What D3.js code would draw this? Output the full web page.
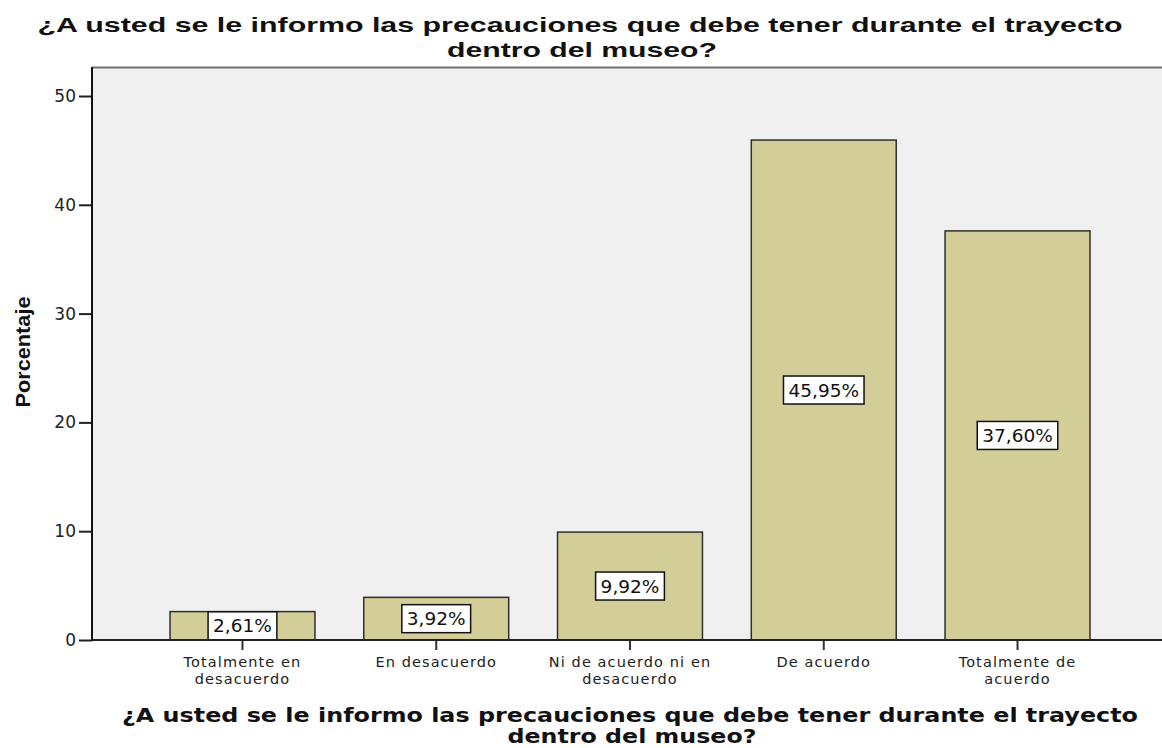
<!DOCTYPE html>
<html>
<head>
<meta charset="utf-8">
<script src="https://cdn.jsdelivr.net/npm/d3@7"></script>
<style>
  body { margin: 0; background: #fff; }
  svg { display: block; }
  .tick text { font-family: "DejaVu Sans", sans-serif; fill: #222; }
</style>
</head>
<body>
<div id="chartHolder"></div>
<script>
// datos
const categories = ["Totalmente en desacuerdo", "En desacuerdo", "Ni de acuerdo ni en desacuerdo", "De acuerdo", "Totalmente de acuerdo"];
const tickLines = [["Totalmente en", "desacuerdo"], ["En desacuerdo"], ["Ni de acuerdo ni en", "desacuerdo"], ["De acuerdo"], ["Totalmente de", "acuerdo"]];
const percents = [2.61, 3.92, 9.92, 45.95, 37.60];
const yTicks = [0, 10, 20, 30, 40, 50];
const titleLines = ["¿A usted se le informo las precauciones que debe tener durante el trayecto", "dentro del museo?"];
const yTitle = "Porcentaje";

const w = 1162;
const h = 748;
const pLeft = 92, pRight = 1162, pTop = 67, pBottom = 640;

const es = d3.formatLocale({decimal: ",", thousands: ".", grouping: [3], currency: ["", "€"]});
const fmt = es.format(".2f");

const svg = d3.select("#chartHolder")
  .append("svg")
  .attr("width", w)
  .attr("height", h);

// fondo del area de grafico
svg.append("rect")
  .attr("x", pLeft).attr("y", pTop)
  .attr("width", pRight - pLeft).attr("height", pBottom - pTop)
  .attr("fill", "#f0f0f0");
svg.append("line")
  .attr("x1", pLeft).attr("x2", pRight)
  .attr("y1", pTop + 0.5).attr("y2", pTop + 0.5)
  .attr("stroke", "#6e6e6e").attr("stroke-width", 2);

const x = d3.scaleBand()
  .domain(categories)
  .range([145.6, 1114.4])
  .paddingInner(0.252)
  .paddingOuter(0.126);

const y = d3.scaleLinear()
  .domain([0, (pBottom - pTop) / 10.88])
  .range([pBottom, pTop]);

// barras
svg.selectAll(".bar")
  .data(percents)
  .enter()
  .append("rect")
  .attr("class", "bar")
  .attr("x", (d, i) => x(categories[i]))
  .attr("y", (d) => y(d))
  .attr("width", x.bandwidth())
  .attr("height", (d) => pBottom - y(d))
  .attr("fill", "#d3ce97")
  .attr("stroke", "#2e2e2e")
  .attr("stroke-width", 1.5);

// etiquetas de valor
const lab = svg.selectAll(".vlab")
  .data(percents)
  .enter()
  .append("g")
  .attr("class", "vlab")
  .attr("transform", (d, i) => "translate(" + (x(categories[i]) + x.bandwidth() / 2) + "," + ((y(d) + pBottom) / 2) + ")");

lab.append("rect");
lab.append("text")
  .attr("text-anchor", "middle")
  .attr("dy", "0.36em")
  .style("font-family", "DejaVu Sans, sans-serif")
  .style("font-size", "18.5px")
  .attr("fill", "#111")
  .text((d) => fmt(d) + "%");
lab.each(function() {
  const g = d3.select(this);
  const tw = g.select("text").node().getComputedTextLength();
  g.select("rect")
    .attr("x", -tw / 2 - 5).attr("y", -14)
    .attr("width", tw + 10).attr("height", 28)
    .attr("fill", "#fff")
    .attr("stroke", "#111")
    .attr("stroke-width", 1.5);
});

// eje x
const xAxis = d3.axisBottom(x).tickSize(10).tickSizeOuter(0).tickFormat("");
const gx = svg.append("g")
  .attr("transform", "translate(0," + pBottom + ")")
  .call(xAxis);
gx.select(".domain").remove();
gx.selectAll(".tick line").attr("stroke", "#333").attr("stroke-width", 2);
svg.append("line")
  .attr("x1", pLeft).attr("x2", pRight)
  .attr("y1", pBottom).attr("y2", pBottom)
  .attr("stroke", "#222").attr("stroke-width", 2);

gx.selectAll(".tick").each(function(d, i) {
  const t = d3.select(this).append("text")
    .attr("text-anchor", "middle")
    .attr("y", 27)
    .style("font-size", "14.5px")
    .style("letter-spacing", "1.1px");
  tickLines[i].forEach((ln, k) => {
    t.append("tspan").attr("x", 0).attr("dy", k == 0 ? 0 : 17).text(ln);
  });
});

// eje y
const yAxis = d3.axisLeft(y).tickValues(yTicks).tickSize(13).tickSizeOuter(0).tickPadding(3);
const gy = svg.append("g")
  .attr("transform", "translate(" + pLeft + ",0)")
  .call(yAxis);
gy.select(".domain").remove();
gy.selectAll(".tick line").attr("stroke", "#222").attr("stroke-width", 2);
gy.selectAll(".tick text").style("font-size", "17px");
svg.append("line")
  .attr("x1", pLeft).attr("x2", pLeft)
  .attr("y1", pTop).attr("y2", pBottom + 1)
  .attr("stroke", "#111").attr("stroke-width", 2);

// titulos
const tt = svg.append("text")
  .attr("text-anchor", "middle")
  .style("font-family", "Liberation Sans, Arial, sans-serif")
  .style("font-weight", "bold")
  .style("font-size", "21px")
  .attr("fill", "#111");
tt.append("tspan").attr("x", 580).attr("y", 32).attr("textLength", 1085).attr("lengthAdjust", "spacingAndGlyphs").text(titleLines[0]);
tt.append("tspan").attr("x", 582).attr("y", 56.5).attr("textLength", 270).attr("lengthAdjust", "spacingAndGlyphs").text(titleLines[1]);

const xt = svg.append("text")
  .attr("text-anchor", "middle")
  .style("font-family", "DejaVu Sans, sans-serif")
  .style("font-weight", "bold")
  .style("font-size", "19px")
  .attr("fill", "#111");
xt.append("tspan").attr("x", 630).attr("y", 722).attr("textLength", 1016).attr("lengthAdjust", "spacingAndGlyphs").text(titleLines[0]);
xt.append("tspan").attr("x", 632).attr("y", 743).attr("textLength", 249).attr("lengthAdjust", "spacingAndGlyphs").text(titleLines[1]);

svg.append("text")
  .attr("text-anchor", "middle")
  .attr("transform", "translate(30,352)rotate(-90)")
  .style("font-family", "Liberation Sans Narrow, Liberation Sans, Arial, sans-serif")
  .style("font-weight", "bold")
  .style("font-size", "21px")
  .attr("textLength", 111)
  .attr("lengthAdjust", "spacingAndGlyphs")
  .attr("fill", "#111")
  .text(yTitle);
</script>
</body>
</html>
